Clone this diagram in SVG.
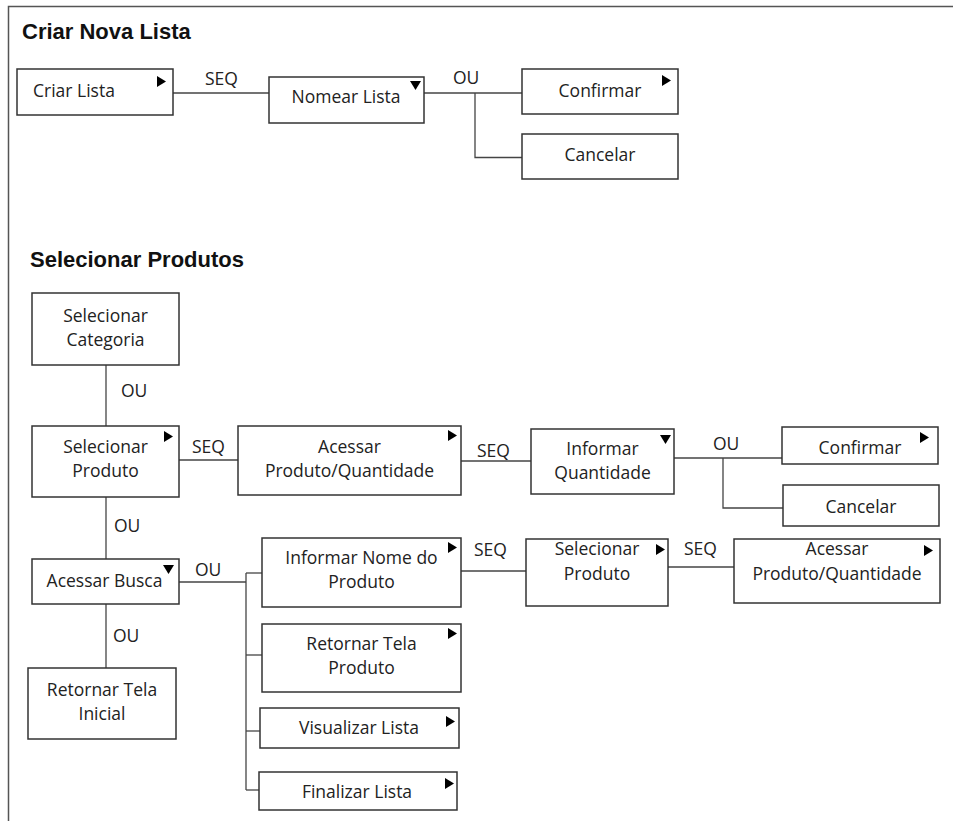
<svg xmlns="http://www.w3.org/2000/svg" width="953" height="821" viewBox="0 0 953 821">
  <style>
    .frame { fill: none; stroke: #555; stroke-width: 1.5; }
    .box { fill: #fff; stroke: #333; stroke-width: 1.5; }
    .conn path { fill: none; stroke: #444; stroke-width: 1.3; }
    .t { font-family: "Open Sans", "Noto Sans", sans-serif; font-size: 17.5px; fill: #222; text-anchor: middle; }
    .lbl { font-family: "Open Sans", "Noto Sans", sans-serif; font-size: 17.5px; fill: #222; }
    .ttl { font-family: "Liberation Sans", Arial, sans-serif; font-size: 22px; font-weight: bold; fill: #111; }
    .tri { fill: #000; }
  </style>
  <defs>
    <path id="tri-r" class="tri" d="M0,0 L9,5.5 L0,11 Z"/>
    <path id="tri-d" class="tri" d="M0,0 L11,0 L5.5,9 Z"/>
  </defs>

  <rect width="953" height="821" fill="#fff"/>
  <path class="frame" d="M8.5,821 V6.5 H953"/>

  <text class="ttl" x="22" y="39">Criar Nova Lista</text>
  <text class="ttl" x="30" y="267">Selecionar Produtos</text>

  <!-- connectors -->
  <g id="connectors" class="conn">
    <path d="M173,93 H269"/>
    <path d="M424,93 H522"/>
    <path d="M475,93 V157.5 H522"/>
    <path d="M106,365 V426"/>
    <path d="M179,460 H238"/>
    <path d="M461,461 H531"/>
    <path d="M674,458 H782"/>
    <path d="M723,458 V508 H783"/>
    <path d="M106,497 V559"/>
    <path d="M179,582 H246"/>
    <path d="M246,573 V790"/>
    <path d="M246,573 H262"/>
    <path d="M246,655 H262"/>
    <path d="M246,731 H260"/>
    <path d="M246,790 H259"/>
    <path d="M106,604 V668"/>
    <path d="M461,571 H526"/>
    <path d="M668,567 H734"/>
  </g>

  <!-- connector labels -->
  <g id="connector-labels">
    <text class="lbl" x="205" y="85">SEQ</text>
    <text class="lbl" x="453" y="84">OU</text>
    <text class="lbl" x="121" y="397">OU</text>
    <text class="lbl" x="192" y="453">SEQ</text>
    <text class="lbl" x="477" y="457">SEQ</text>
    <text class="lbl" x="713" y="450">OU</text>
    <text class="lbl" x="114" y="532">OU</text>
    <text class="lbl" x="195" y="576">OU</text>
    <text class="lbl" x="113" y="642">OU</text>
    <text class="lbl" x="474" y="556">SEQ</text>
    <text class="lbl" x="684" y="555">SEQ</text>
  </g>

  <!-- Criar Nova Lista -->
  <g id="criar-lista">
    <rect class="box" x="17" y="69" width="156" height="46"/>
    <text class="lbl" x="33" y="97">Criar Lista</text>
    <use href="#tri-r" x="157" y="76"/>
  </g>
  <g id="nomear-lista">
    <rect class="box" x="269" y="77" width="155" height="46"/>
    <text class="t" x="346" y="103">Nomear Lista</text>
    <use href="#tri-d" x="410" y="81"/>
  </g>
  <g id="confirmar-1">
    <rect class="box" x="522" y="69" width="156" height="45"/>
    <text class="t" x="600" y="97">Confirmar</text>
    <use href="#tri-r" x="662" y="75"/>
  </g>
  <g id="cancelar-1">
    <rect class="box" x="522" y="134" width="156" height="45"/>
    <text class="t" x="600" y="161">Cancelar</text>
  </g>

  <!-- Selecionar Produtos -->
  <g id="selecionar-categoria">
    <rect class="box" x="32" y="293" width="147" height="72"/>
    <text class="t" x="105.5" y="322">Selecionar</text>
    <text class="t" x="105.5" y="346">Categoria</text>
  </g>
  <g id="selecionar-produto">
    <rect class="box" x="32" y="426" width="147" height="71"/>
    <text class="t" x="105.5" y="453">Selecionar</text>
    <text class="t" x="105.5" y="477">Produto</text>
    <use href="#tri-r" x="164" y="431"/>
  </g>
  <g id="acessar-produto-quantidade-1">
    <rect class="box" x="238" y="426" width="223" height="69"/>
    <text class="t" x="349.5" y="453">Acessar</text>
    <text class="t" x="349.5" y="477">Produto/Quantidade</text>
    <use href="#tri-r" x="448" y="430"/>
  </g>
  <g id="informar-quantidade">
    <rect class="box" x="531" y="429" width="143" height="65"/>
    <text class="t" x="602.5" y="455">Informar</text>
    <text class="t" x="602.5" y="479">Quantidade</text>
    <use href="#tri-d" x="660" y="435"/>
  </g>
  <g id="confirmar-2">
    <rect class="box" x="782" y="427" width="156" height="37"/>
    <text class="t" x="860" y="454">Confirmar</text>
    <use href="#tri-r" x="920" y="432"/>
  </g>
  <g id="cancelar-2">
    <rect class="box" x="783" y="485" width="156" height="41"/>
    <text class="t" x="861" y="513">Cancelar</text>
  </g>
  <g id="acessar-busca">
    <rect class="box" x="32" y="559" width="147" height="45"/>
    <text class="t" x="104.5" y="587">Acessar Busca</text>
    <use href="#tri-d" x="163" y="565"/>
  </g>
  <g id="retornar-tela-inicial">
    <rect class="box" x="28" y="668" width="148" height="71"/>
    <text class="t" x="102" y="696">Retornar Tela</text>
    <text class="t" x="102" y="720">Inicial</text>
  </g>
  <g id="informar-nome-produto">
    <rect class="box" x="262" y="538" width="199" height="69"/>
    <text class="t" x="361.5" y="564">Informar Nome do</text>
    <text class="t" x="361.5" y="588">Produto</text>
    <use href="#tri-r" x="448" y="542"/>
  </g>
  <g id="retornar-tela-produto">
    <rect class="box" x="262" y="624" width="199" height="68"/>
    <text class="t" x="361.5" y="650">Retornar Tela</text>
    <text class="t" x="361.5" y="674">Produto</text>
    <use href="#tri-r" x="448" y="628"/>
  </g>
  <g id="visualizar-lista">
    <rect class="box" x="260" y="708" width="199" height="40"/>
    <text class="t" x="359" y="734">Visualizar Lista</text>
    <use href="#tri-r" x="446" y="716"/>
  </g>
  <g id="finalizar-lista">
    <rect class="box" x="259" y="772" width="198" height="38"/>
    <text class="t" x="357" y="798">Finalizar Lista</text>
    <use href="#tri-r" x="445" y="778"/>
  </g>
  <g id="selecionar-produto-2">
    <rect class="box" x="526" y="539" width="142" height="67"/>
    <text class="t" x="597" y="555">Selecionar</text>
    <text class="t" x="597" y="580">Produto</text>
    <use href="#tri-r" x="656" y="544"/>
  </g>
  <g id="acessar-produto-quantidade-2">
    <rect class="box" x="734" y="539" width="206" height="64"/>
    <text class="t" x="837" y="555">Acessar</text>
    <text class="t" x="837" y="580">Produto/Quantidade</text>
    <use href="#tri-r" x="924" y="545"/>
  </g>
</svg>
